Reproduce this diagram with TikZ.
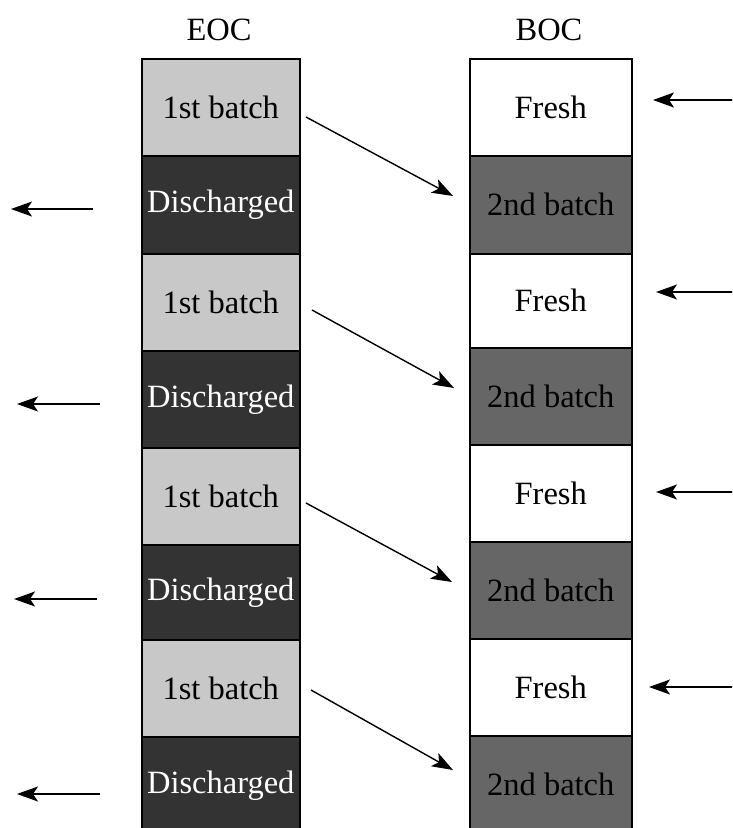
\documentclass[tikz,border=0pt]{standalone}
\usepackage{fontspec}
\setmainfont{Liberation Serif}
\usetikzlibrary{arrows.meta}
\definecolor{lightg}{HTML}{C8C8C8}
\definecolor{darkg}{HTML}{333333}
\definecolor{midg}{HTML}{666666}
\begin{document}
\begin{tikzpicture}[x=1pt,y=-1pt,
  cell/.style={draw=black,line width=1.5pt,inner sep=0pt,font=\fontsize{32.5}{37}\selectfont},
  first/.style={cell,fill=lightg,text=black},
  disc/.style={cell,fill=darkg,text=white},
  fresh/.style={cell,fill=white,text=black},
  second/.style={cell,fill=midg,text=black},
  arr/.style={line width=1.4pt,-{Stealth[length=21pt,width=15pt,inset=5pt]}},
  lbl/.style={font=\fontsize{32.5}{37}\selectfont}]
\useasboundingbox (0,0) rectangle (732,828);
\clip (0,0) rectangle (732,828);
% left column
\foreach \i/\a/\b/\s/\t in {1/58/155/first/1st batch,2/155/253/disc/Discharged,3/253/350/first/1st batch,4/350/447/disc/Discharged,5/447/544/first/1st batch,6/544/639/disc/Discharged,7/639/736/first/1st batch,8/736/833/disc/Discharged}{
  \node[\s,minimum width=158pt,minimum height={(\b-\a)*1pt},anchor=north west] (L\i) at (141,\a) {\t};
}
% right column
\foreach \i/\a/\b/\s/\t in {1/58/155/fresh/Fresh,2/155/253/second/2nd batch,3/253/347/fresh/Fresh,4/347/444/second/2nd batch,5/444/541/fresh/Fresh,6/541/638/second/2nd batch,7/638/735/fresh/Fresh,8/735/832/second/2nd batch}{
  \node[\s,minimum width=162pt,minimum height={(\b-\a)*1pt},anchor=north west] (R\i) at (469,\a) {\t};
}
\node[lbl] (eoc) at (219,30) {EOC};
\node[lbl] (boc) at (549,30) {BOC};
% diagonal arrows
\coordinate (d1s) at (306,117); \coordinate (d1e) at (453,196);
\coordinate (d3s) at (312,310); \coordinate (d3e) at (454,388);
\coordinate (d5s) at (306,503); \coordinate (d5e) at (452,582);
\coordinate (d7s) at (311,690); \coordinate (d7e) at (453,770);
\draw[arr] (d1s) -- (d1e);
\draw[arr] (d3s) -- (d3e);
\draw[arr] (d5s) -- (d5e);
\draw[arr] (d7s) -- (d7e);
% left outgoing arrows
\coordinate (o2s) at (93,209); \coordinate (o2e) at (11,209);
\coordinate (o4s) at (100,404); \coordinate (o4e) at (17,404);
\coordinate (o6s) at (97,599); \coordinate (o6e) at (14,599);
\coordinate (o8s) at (100,794); \coordinate (o8e) at (17,794);
\draw[arr] (o2s) -- (o2e);
\draw[arr] (o4s) -- (o4e);
\draw[arr] (o6s) -- (o6e);
\draw[arr] (o8s) -- (o8e);
% right incoming arrows
\coordinate (i1s) at (733,100); \coordinate (i1e) at (653,100);
\coordinate (i3s) at (733,292); \coordinate (i3e) at (656,292);
\coordinate (i5s) at (733,492); \coordinate (i5e) at (656,492);
\coordinate (i7s) at (733,687); \coordinate (i7e) at (649,687);
\draw[arr] (i1s) -- (i1e);
\draw[arr] (i3s) -- (i3e);
\draw[arr] (i5s) -- (i5e);
\draw[arr] (i7s) -- (i7e);
\end{tikzpicture}
\end{document}
